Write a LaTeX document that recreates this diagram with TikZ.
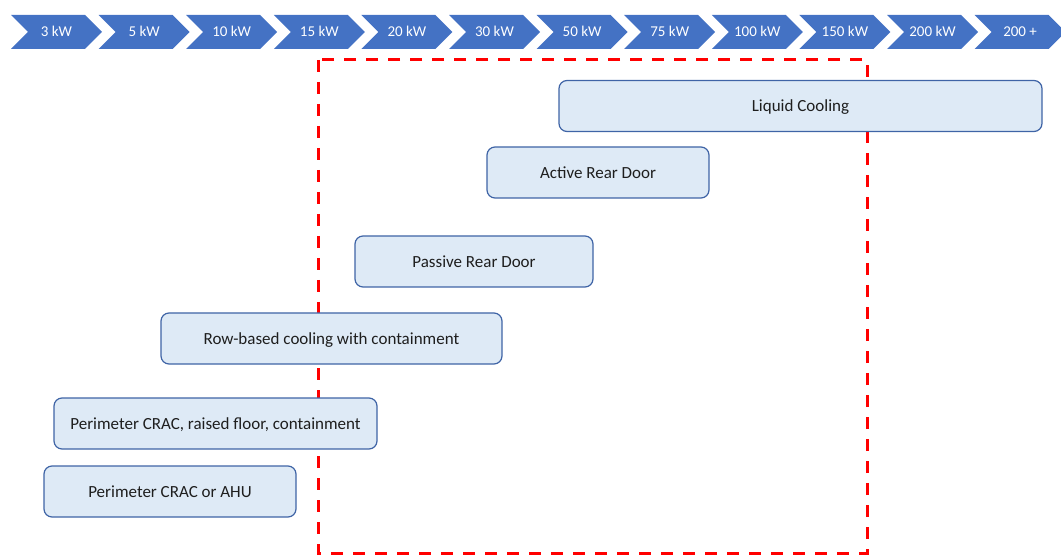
\documentclass[tikz,border=0pt]{standalone}
\usepackage{fontspec}
\setmainfont{Carlito}
\usetikzlibrary{shapes.symbols}

\definecolor{scaleblue}{HTML}{4472C4}
\definecolor{boxfill}{HTML}{DEEAF6}
\definecolor{boxline}{HTML}{3F64A6}
\definecolor{boxtext}{HTML}{1E1E1E}

\begin{document}
\begin{tikzpicture}[x=1pt, y=-1pt]
  \useasboundingbox (0,0) rectangle (1061,556);

  % Range
  \draw[red, line width=3pt, dash pattern=on 12pt off 10pt] (318,60) rectangle (867,553);

  % Scale
  \begin{scope}[every node/.style={shape=signal, signal to=east, signal from=west, signal pointer angle=90,
      fill=scaleblue, text=white, minimum width=91pt, minimum height=34pt, inner sep=0pt, outer sep=0pt,
      text height=10pt, text depth=0pt, font=\fontsize{15}{18}\selectfont}]
    \node (kw3) at (56.5,32) {3 kW};
    \node (kw5) at (144.1,32) {5 kW};
    \node (kw10) at (231.7,32) {10 kW};
    \node (kw15) at (319.3,32) {15 kW};
    \node (kw20) at (406.9,32) {20 kW};
    \node (kw30) at (494.5,32) {30 kW};
    \node (kw50) at (582.1,32) {50 kW};
    \node (kw75) at (669.7,32) {75 kW};
    \node (kw100) at (757.3,32) {100 kW};
    \node (kw150) at (844.9,32) {150 kW};
    \node (kw200) at (932.5,32) {200 kW};
    \node (kwmax) at (1020.1,32) {200 +};
  \end{scope}

  % Cooling
  \begin{scope}[every node/.style={draw=boxline, line width=1.2pt, fill=boxfill, rounded corners=8pt,
      text=boxtext, minimum height=51pt, inner sep=0pt, text height=12pt, text depth=0pt,
      font=\fontsize{17}{20}\selectfont}]
    \node[minimum width=483pt] (liquid) at (800.5,106) {Liquid Cooling};
    \node[minimum width=222pt] (active) at (598,172.5) {Active Rear Door};
    \node[minimum width=238pt] (passive) at (474,261.5) {Passive Rear Door};
    \node[minimum width=341pt] (row) at (331.5,338.5) {Row-based cooling with containment};
    \node[minimum width=323pt] (raised) at (215.5,423.5) {Perimeter CRAC, raised floor, containment};
    \node[minimum width=252pt] (crac) at (170,491.5) {Perimeter CRAC or AHU};
  \end{scope}
\end{tikzpicture}
\end{document}
